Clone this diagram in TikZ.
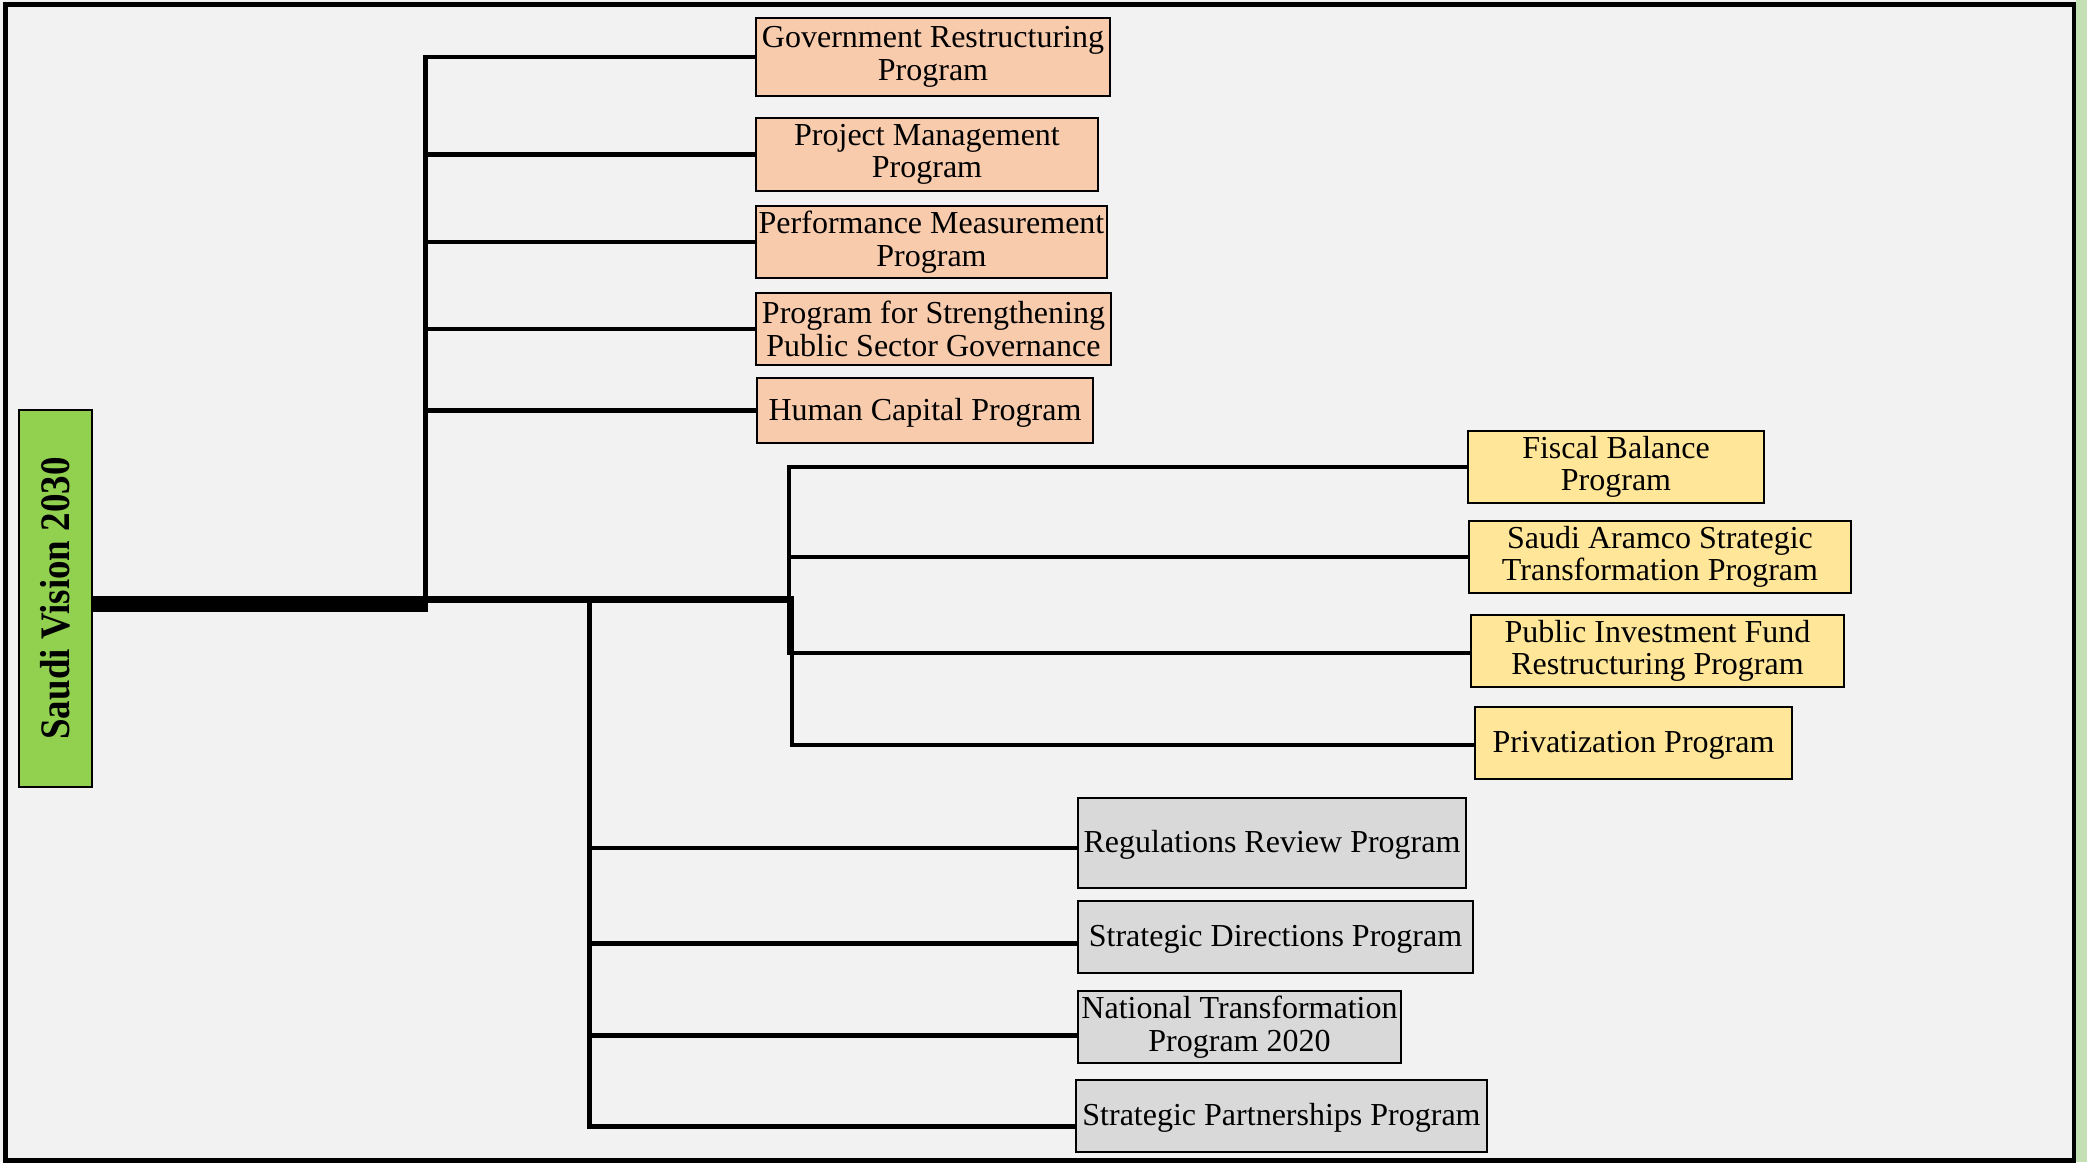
\documentclass[tikz,border=0pt]{standalone}
\usepackage{fontspec}
\setmainfont{Liberation Serif}
\usepackage{graphicx}
\definecolor{bgc}{HTML}{F2F2F2}
\definecolor{stripc}{HTML}{C5E0B4}
\definecolor{rootc}{HTML}{92D050}
\definecolor{peach}{HTML}{F8CBAD}
\definecolor{sand}{HTML}{FFE699}
\definecolor{ash}{HTML}{D9D9D9}
\begin{document}
\begin{tikzpicture}[x=1pt,y=-1pt,
  prog/.style={draw=black, line width=2.7pt, inner sep=0pt, align=center,
    font=\fontsize{32}{32.5}\selectfont,
    execute at begin node={\rule{0pt}{26.5pt}}},
  govbox/.style={prog, fill=peach},
  econbox/.style={prog, fill=sand},
  planbox/.style={prog, fill=ash},
  conn/.style={line width=4.3pt, line join=miter},
  trunk/.style={line width=7pt},
  bar/.style={line width=16pt}]
\useasboundingbox (0,0) rectangle (2087,1162);
% page background, side strip and outer frame
\fill[bgc] (0,0) rectangle (2087,1162);
\fill[stripc] (2076,0) rectangle (2087,1162);
\draw[line width=4.5pt] (5.5,4.5) rectangle (2074,1160.5);

% root
\node[draw=black, line width=2.7pt, fill=rootc, rotate=90, inner sep=0pt,
  minimum width=377pt, minimum height=73pt,
  font=\fontsize{42}{44}\selectfont\bfseries] (root) at (55.5,598.5)
  {\scalebox{0.88}[1]{Saudi Vision 2030}};

% governance programs
\node[govbox, minimum width=354pt, minimum height=78pt] (gov) at (933,57) {Government Restructuring\\Program};
\node[govbox, minimum width=342pt, minimum height=73pt] (pm) at (927,154.5) {Project Management\\Program};
\node[govbox, minimum width=351pt, minimum height=72pt] (perf) at (931.5,242) {Performance Measurement\\Program};
\node[govbox, minimum width=355pt, minimum height=72pt] (str) at (933.5,329) {Program for Strengthening\\Public Sector Governance};
\node[govbox, minimum width=336pt, minimum height=65pt] (hc) at (925,410.5) {Human Capital Program};

% economic programs
\node[econbox, minimum width=296pt, minimum height=72pt] (fis) at (1616,467) {Fiscal Balance\\Program};
\node[econbox, minimum width=382pt, minimum height=72pt] (ara) at (1660,557) {Saudi Aramco Strategic\\Transformation Program};
\node[econbox, minimum width=373pt, minimum height=72pt] (pif) at (1657.5,651) {Public Investment Fund\\Restructuring Program};
\node[econbox, minimum width=317pt, minimum height=72pt] (priv) at (1633.5,743) {Privatization Program};

% planning programs
\node[planbox, minimum width=388pt, minimum height=90pt] (rr) at (1272,843) {Regulations Review Program};
\node[planbox, minimum width=395pt, minimum height=72pt] (sd) at (1275.5,937) {Strategic Directions Program};
\node[planbox, minimum width=323pt, minimum height=72pt] (nt) at (1239.5,1027) {National Transformation\\Program 2020};
\node[planbox, minimum width=411pt, minimum height=72pt] (sp) at (1281.5,1116) {Strategic Partnerships Program};

% junction points on the trunk
\coordinate (tb) at (428,604);
\coordinate (ob) at (425.5,599.5);
\coordinate (gj) at (589.5,599.5);
\coordinate (yj) at (789,599.5);
\coordinate (yk) at (792,599.5);
\coordinate (tr) at (794,599.5);

% trunk
\draw[bar] (root.south |- tb) -- (tb);
\draw[trunk] (ob) -- (tr);

% governance branch
\draw[conn] (gov.west) -- (ob |- gov.west) -- (ob);
\foreach \n in {pm,perf,str,hc}
  \draw[conn] (ob |- \n.west) -- (\n.west);

% economic branch
\draw[conn] (fis.west) -- (yj |- fis.west) -- ([yshift=-2pt]yj |- pif.west) -- ([yshift=-2pt]pif.west);
\draw[conn] (yj |- ara.west) -- (ara.west);
\draw[conn] (yk) -- ([yshift=-2pt]yk |- priv.west) -- ([yshift=-2pt]priv.west);

% planning branch
\draw[conn] (gj) -- ([yshift=-10.5pt]gj |- sp.west) -- ([yshift=-10.5pt]sp.west);
\draw[conn] ([yshift=-5pt]gj |- rr.west) -- ([yshift=-5pt]rr.west);
\draw[conn] ([yshift=-6.5pt]gj |- sd.west) -- ([yshift=-6.5pt]sd.west);
\draw[conn] ([yshift=-8.5pt]gj |- nt.west) -- ([yshift=-8.5pt]nt.west);
\end{tikzpicture}
\end{document}
